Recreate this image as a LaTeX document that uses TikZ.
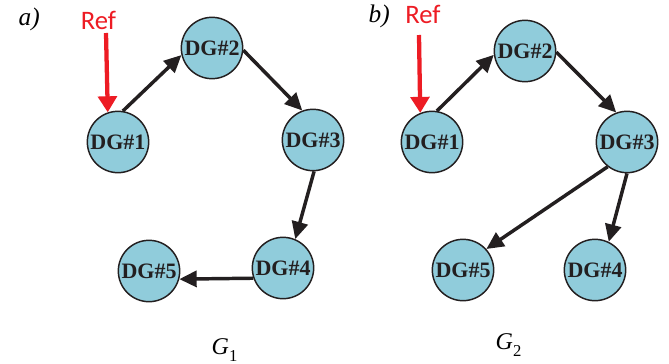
\documentclass[tikz,border=0pt]{standalone}
\usepackage{fontspec}
\setmainfont{Liberation Serif}
\newfontfamily\reffont{Carlito}
\usetikzlibrary{arrows.meta}
\definecolor{dgblue}{RGB}{144,204,219}
\definecolor{refred}{RGB}{237,28,36}
\definecolor{ink}{RGB}{35,31,32}
\newcommand{\gsub}[1]{\textit{G}\raisebox{-0.32em}{\fontsize{12.5}{12.5}\selectfont #1}}
\begin{document}
\begin{tikzpicture}[x=0.75pt, y=-0.75pt,
    dg/.style={circle, draw=ink, line width=1.1pt, fill=dgblue, text=ink,
      minimum size=46pt, inner sep=0pt, font=\fontsize{16.5}{16.5}\selectfont\bfseries},
    link/.style={draw=ink, line width=2.6pt, -{Triangle[length=13pt,width=12pt]}},
    reflab/.style={anchor=base, text=refred, font=\reffont\fontsize{20}{20}\selectfont},
    refarrow/.style={draw=refred, line width=3.2pt, -{Triangle[length=12pt,width=14pt]}},
    panel/.style={anchor=base west, font=\fontsize{19}{19}\selectfont\itshape},
    gname/.style={anchor=base west, font=\fontsize{18}{18}\selectfont}]
  \useasboundingbox (0,0) rectangle (669,364);
  % a) graph G1
  \node (a) [panel] at (14,26) {a)};
  \node (A1) [dg] at (118,142) {DG\#1};
  \node (A2) [dg] at (212,48) {DG\#2};
  \node (A3) [dg] at (313,140) {DG\#3};
  \node (A4) [dg] at (283,268) {DG\#4};
  \node (A5) [dg] at (149,271) {DG\#5};
  \node (RefA) [reflab] at (98.5,30) {Ref};
  \coordinate (RA) at (106,33);
  \node (G1) [gname] at (207,354) {\gsub{1}};
  \draw [refarrow] (RA) to (A1.109);
  \draw [link] (A1.81) to (A2.193);
  \draw [link] (A2.356) to (A3.110);
  \draw [link] (A3.272) to (A4.67);
  \draw [link] (A4.199) to (A5.345);
  % b) graph G2
  \node (b) [panel] at (364,22) {b)};
  \node (B1) [dg] at (432,142) {DG\#1};
  \node (B2) [dg] at (525,51) {DG\#2};
  \node (B3) [dg] at (627,142) {DG\#3};
  \node (B4) [dg] at (595,270) {DG\#4};
  \node (B5) [dg] at (463,270) {DG\#5};
  \node (RefB) [reflab] at (423,23) {Ref};
  \coordinate (RB) at (419,35);
  \node (G2) [gname] at (491,349) {\gsub{2}};
  \draw [refarrow] (RB) to (B1.112);
  \draw [link] (B1.81) to (B2.187);
  \draw [link] (B2.358) to (B3.110);
  \draw [link] (B3.232) to (B5.42);
  \draw [link] (B3.270) to (B4.64);
\end{tikzpicture}
\end{document}
